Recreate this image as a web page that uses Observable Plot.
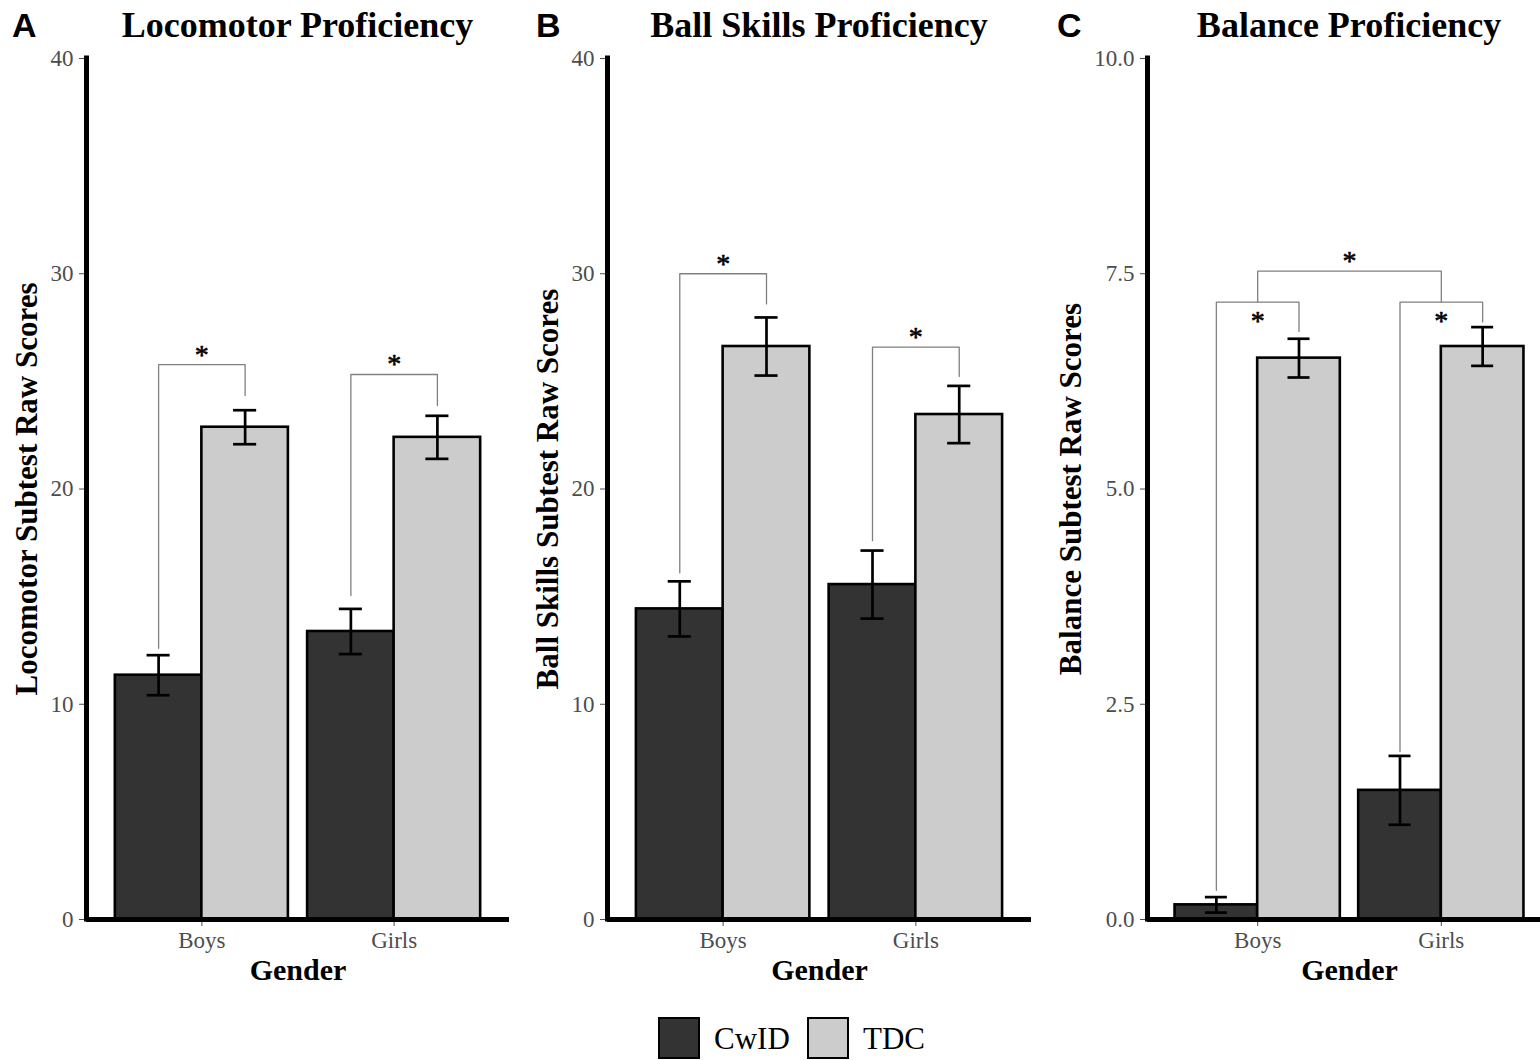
<!DOCTYPE html>
<html>
<head>
<meta charset="utf-8">
<script src="https://cdn.jsdelivr.net/npm/d3@7"></script>
<script src="https://cdn.jsdelivr.net/npm/@observablehq/plot@0.6"></script>
<style>
  html, body { margin: 0; padding: 0; background: #fff; }
  body { width: 1540px; height: 1060px; overflow: hidden; position: relative; }
  .abs { position: absolute; }
  .title { font-family: "Liberation Serif", serif; font-weight: bold; font-size: 36px; color: #000;
           transform: translate(-50%, -50%); white-space: nowrap; line-height: 1; }
  .letter { font-family: "Liberation Sans", sans-serif; font-weight: bold; font-size: 34px; color: #000;
            transform: translateY(-50%); line-height: 1; }
  .panel svg { max-width: none !important; overflow: visible; }
  .sw { position: absolute; width: 42px; height: 42px; box-sizing: border-box; border: 2.5px solid #000; }
  .lt { position: absolute; font-family: "Liberation Serif", serif; font-size: 31px; color: #000;
        transform: translateY(-50%); line-height: 1; white-space: nowrap; }
</style>
</head>
<body>
<script>
// ---------------- data ----------------
const genders = ["Boys", "Girls"];
const groups = ["CwID", "TDC"];
// bar order: Boys-CwID, Boys-TDC, Girls-CwID, Girls-TDC

// A: Locomotor
const locomotorMean = [11.35, 22.87, 13.38, 22.40];
const locomotorSE   = [0.93, 0.79, 1.05, 1.00];
const locomotorBracketFrom = ["Boys CwID", "Girls CwID"];
const locomotorBracketTo   = ["Boys TDC", "Girls TDC"];
const locomotorBracketTop  = [25.78, 25.32];
const locomotorBracketFromEnd = [12.6, 15.05];
const locomotorBracketToEnd   = [24.34, 23.88];
const locomotorStarSide = ["above", "above"];
const locomotorTicks = [0, 10, 20, 30, 40];

// B: Ball skills
const ballMean = [14.43, 26.62, 15.56, 23.46];
const ballSE   = [1.28, 1.35, 1.58, 1.33];
const ballBracketFrom = ["Boys CwID", "Girls CwID"];
const ballBracketTo   = ["Boys TDC", "Girls TDC"];
const ballBracketTop  = [30.0, 26.59];
const ballBracketFromEnd = [16.11, 17.6];
const ballBracketToEnd   = [28.6, 25.23];
const ballStarSide = ["above", "above"];
const ballTicks = [0, 10, 20, 30, 40];

// C: Balance
const balanceMean = [0.17, 6.52, 1.50, 6.655];
const balanceSE   = [0.09, 0.225, 0.40, 0.225];
const balanceBracketFrom = ["Boys CwID", "Girls CwID", "Boys"];
const balanceBracketTo   = ["Boys TDC", "Girls TDC", "Girls"];
const balanceBracketTop  = [7.17, 7.17, 7.53];
const balanceBracketFromEnd = [0.34, 1.95, 7.17];
const balanceBracketToEnd   = [6.83, 6.94, 7.17];
const balanceStarSide = ["below", "below", "above"];
const balanceTicks = [0, 2.5, 5, 7.5, 10];

const panelTitles = ["Locomotor Proficiency", "Ball Skills Proficiency", "Balance Proficiency"];
const panelLetters = ["A", "B", "C"];
const yTitles = ["Locomotor Subtest Raw Scores", "Ball Skills Subtest Raw Scores", "Balance Subtest Raw Scores"];
const xTitle = "Gender";

// ---------------- drawing ----------------
const DODGE = 0.225; // half of the 0.9 dodge width
function pos(key) {
  const [g, grp] = key.split(" ");
  const c = genders.indexOf(g) + 1;
  if (!grp) return c;
  return c + (grp === "CwID" ? -DODGE : DODGE);
}

function makePanel(cfg) {
  const rows = cfg.means.map((m, i) => ({
    gender: genders[Math.floor(i / 2)],
    group: groups[i % 2],
    mean: m,
    se: cfg.ses[i]
  }));
  rows.forEach(d => { d.c = pos(d.gender + " " + d.group); });

  const pts = [];
  const stars = [];
  cfg.brFrom.forEach((f, k) => {
    const x1 = pos(f), x2 = pos(cfg.brTo[k]);
    pts.push({k, x: x1, y: cfg.brFromEnd[k]}, {k, x: x1, y: cfg.brTop[k]},
             {k, x: x2, y: cfg.brTop[k]}, {k, x: x2, y: cfg.brToEnd[k]});
    stars.push({x: (x1 + x2) / 2, y: cfg.brTop[k], side: cfg.starSide[k]});
  });

  const yMax = cfg.ticks[cfg.ticks.length - 1];
  const serif = "Liberation Serif";
  return Plot.plot({
    width: cfg.width,
    height: 960,
    marginLeft: 86,
    marginRight: 11,
    marginTop: 18,
    marginBottom: 81,
    style: {fontFamily: serif, fontSize: "23px", color: "#4d4d4d", background: "white", overflow: "visible"},
    x: {domain: [0.4, 2.6], ticks: [1, 2], tickFormat: d => genders[d - 1], tickSize: 7, tickPadding: 5, label: null},
    y: {domain: [0, yMax], ticks: cfg.ticks, tickFormat: cfg.fmt, tickSize: 7, tickPadding: 6, label: null},
    color: {domain: groups, range: ["#333333", "#cccccc"]},
    marks: [
      Plot.rect(rows, {x1: d => d.c - DODGE, x2: d => d.c + DODGE, y1: 0, y2: "mean",
        fill: "group", stroke: "black", strokeWidth: 2.6}),
      Plot.ruleX(rows, {x: "c", y1: d => d.mean - d.se, y2: d => d.mean + d.se, stroke: "black", strokeWidth: 2.7}),
      Plot.ruleY(rows, {y: d => d.mean + d.se, x1: d => d.c - 0.06, x2: d => d.c + 0.06, stroke: "black", strokeWidth: 2.7}),
      Plot.ruleY(rows, {y: d => d.mean - d.se, x1: d => d.c - 0.06, x2: d => d.c + 0.06, stroke: "black", strokeWidth: 2.7}),
      Plot.line(pts, {x: "x", y: "y", z: "k", stroke: "#808080", strokeWidth: 1.3}),
      Plot.text(stars.filter(s => s.side === "above"), {x: "x", y: "y", text: () => "*", dy: -10,
        fontSize: 28, fontFamily: serif, fill: "black", stroke: "black", strokeWidth: 0.6}),
      Plot.text(stars.filter(s => s.side === "below"), {x: "x", y: "y", text: () => "*", dy: 19,
        fontSize: 28, fontFamily: serif, fill: "black", stroke: "black", strokeWidth: 0.6}),
      Plot.ruleX([0.4], {y1: 0, y2: yMax, stroke: "black", strokeWidth: 5, strokeLinecap: "square"}),
      Plot.ruleY([0], {stroke: "black", strokeWidth: 5}),
      Plot.text([cfg.yTitle], {text: d => d, frameAnchor: "left", textAnchor: "middle", rotate: -90, dx: -cfg.yTitleOffset,
        fontSize: 31, fontWeight: "bold", fontFamily: serif, fill: "black"}),
      Plot.text([xTitle], {text: d => d, frameAnchor: "bottom", textAnchor: "middle", dy: 60,
        fontSize: 30, fontWeight: "bold", fontFamily: serif, fill: "black"})
    ]
  });
}

const panels = [
  {left: 0, width: 520, means: locomotorMean, ses: locomotorSE, brFrom: locomotorBracketFrom, brTo: locomotorBracketTo,
   brTop: locomotorBracketTop, brFromEnd: locomotorBracketFromEnd, brToEnd: locomotorBracketToEnd,
   starSide: locomotorStarSide, ticks: locomotorTicks, fmt: d3.format("d"), yTitle: yTitles[0], yTitleOffset: 59,
   letterX: 12, center: 297.5},
  {left: 521, width: 521, means: ballMean, ses: ballSE, brFrom: ballBracketFrom, brTo: ballBracketTo,
   brTop: ballBracketTop, brFromEnd: ballBracketFromEnd, brToEnd: ballBracketToEnd,
   starSide: ballStarSide, ticks: ballTicks, fmt: d3.format("d"), yTitle: yTitles[1], yTitleOffset: 59,
   letterX: 536, center: 819},
  {left: 1061, width: 501, means: balanceMean, ses: balanceSE, brFrom: balanceBracketFrom, brTo: balanceBracketTo,
   brTop: balanceBracketTop, brFromEnd: balanceBracketFromEnd, brToEnd: balanceBracketToEnd,
   starSide: balanceStarSide, ticks: balanceTicks, fmt: d3.format(".1f"), yTitle: yTitles[2], yTitleOffset: 76,
   letterX: 1057, center: 1349}
];

panels.forEach((cfg, i) => {
  const div = document.createElement("div");
  div.className = "abs panel";
  div.style.left = cfg.left + "px";
  div.style.top = "40px";
  div.style.width = cfg.width + "px";
  div.appendChild(makePanel(cfg));
  document.body.appendChild(div);

  const t = document.createElement("div");
  t.className = "abs title";
  t.style.left = cfg.center + "px";
  t.style.top = "25px";
  t.textContent = panelTitles[i];
  document.body.appendChild(t);

  const l = document.createElement("div");
  l.className = "abs letter";
  l.style.left = cfg.letterX + "px";
  l.style.top = "25px";
  l.textContent = panelLetters[i];
  document.body.appendChild(l);
});

// legend
const legendColors = ["#333333", "#cccccc"];
const legendX = [658, 807];
groups.forEach((g, i) => {
  const sw = document.createElement("div");
  sw.className = "sw";
  sw.style.left = legendX[i] + "px";
  sw.style.top = "1017px";
  sw.style.background = legendColors[i];
  document.body.appendChild(sw);
  const lt = document.createElement("div");
  lt.className = "lt";
  lt.style.left = (legendX[i] + 56) + "px";
  lt.style.top = "1038px";
  lt.textContent = g;
  document.body.appendChild(lt);
});
</script>
</body>
</html>
